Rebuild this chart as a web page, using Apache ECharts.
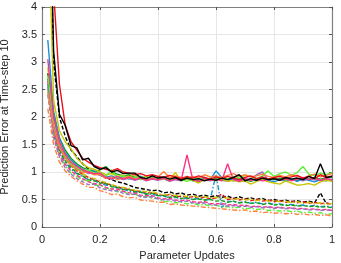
<!DOCTYPE html>
<html><head><meta charset="utf-8">
<script src="https://cdn.jsdelivr.net/npm/echarts@6/dist/echarts.min.js"></script>
<style>html,body{margin:0;padding:0;background:#fff}#c{width:341px;height:263px}</style>
</head><body><div id="c"></div>
<script>
const xs = [0.02,0.04,0.06,0.08,0.10,0.12,0.14,0.16,0.18,0.20,0.22,0.24,0.26,0.28,0.30,0.32,0.34,0.36,0.38,0.40,0.42,0.44,0.46,0.48,0.50,0.52,0.54,0.56,0.58,0.60,0.62,0.64,0.66,0.68,0.70,0.72,0.74,0.76,0.78,0.80,0.82,0.84,0.86,0.88,0.90,0.92,0.94,0.96,0.98,1.00];
const xTicks = [0,0.2,0.4,0.6,0.8,1];
const yTicks = [0,0.5,1,1.5,2,2.5,3,3.5,4];

// solid series
const sBlue = [3.40,2.10,1.62,1.35,1.22,1.12,1.05,1.00,1.02,0.96, 0.90,0.93,0.88,0.91,0.87,0.89,0.92,0.86,0.88,0.90, 0.87,0.85,0.89,0.86,0.88,0.84,0.87,0.90,0.86,1.02, 0.90,0.88,0.85,0.87,0.83,0.86,0.84,0.88,0.85,0.82, 0.86,0.84,0.87,0.83,0.88,0.85,0.82,0.86,0.84,0.87];
const sRed = [7.00,4.30,2.60,1.85,1.55,1.40,1.25,1.18,1.12,1.08, 1.05,1.02,1.06,1.00,0.98,0.95,0.97,0.93,0.95,0.92, 0.90,0.94,0.91,0.88,0.92,0.89,0.93,0.90,0.87,0.91, 0.88,0.92,0.89,0.86,0.90,0.93,0.88,0.91,0.87,0.90, 0.92,0.88,0.91,0.94,0.89,0.92,0.88,0.95,0.90,0.93];
const sBlack = [8.00,3.20,2.05,1.85,1.48,1.44,1.22,1.25,1.10,1.05, 1.08,1.00,1.03,0.97,0.98,0.98,0.90,0.88,0.93,0.89, 0.91,0.87,0.90,0.85,0.89,0.86,0.88,0.84,0.87,0.85, 0.89,0.86,0.90,0.95,0.84,0.88,0.85,0.89,0.86,0.88, 0.85,0.90,0.87,0.89,0.86,0.92,0.88,1.15,0.90,0.92];
const sYellow = [6.00,2.30,1.75,1.55,1.42,1.25,1.15,1.08,1.05,1.00, 0.95,0.97,0.92,0.94,0.90,0.96,0.89,0.92,0.88,0.90, 0.87,0.86,0.99,0.84,0.88,0.85,0.80,0.86,0.89,0.84, 0.87,0.83,0.85,0.82,0.84,0.78,0.83,0.86,0.82,0.80, 0.78,0.84,0.80,0.76,0.77,0.79,0.76,0.82,0.85,0.83];
const sGreen = [2.80,2.05,1.62,1.40,1.25,1.15,1.08,1.04,1.00,1.04, 1.10,1.00,0.96,0.93,0.95,0.90,0.92,0.88,0.91,0.87, 0.89,0.86,0.88,0.85,0.90,0.87,0.84,0.88,0.86,0.89, 0.85,0.87,0.84,0.88,0.86,0.83,0.87,0.85,0.88,0.86, 0.89,0.85,0.87,0.84,0.88,0.86,0.90,0.87,0.89,0.91];
const sLime = [2.75,1.95,1.55,1.30,1.15,1.08,1.02,1.04,0.98,0.99, 0.92,1.04,0.90,0.93,0.88,0.91,0.86,0.89,0.92,0.87, 0.90,0.85,0.88,0.86,0.83,0.87,0.89,0.85,0.88,0.86, 0.90,0.87,0.92,0.89,0.94,0.91,0.88,0.93,1.02,0.92, 0.97,1.00,0.94,0.99,1.10,0.96,0.93,0.98,0.95,0.99];
const sPink = [3.05,2.00,1.55,1.32,1.18,1.10,1.04,1.00,0.97,0.98, 0.90,0.88,0.92,0.87,0.90,0.86,0.89,0.85,0.88,0.86, 0.89,0.84,0.87,0.85,1.31,0.86,0.83,0.88,0.85,0.87, 0.84,1.15,0.86,0.83,0.88,0.85,0.87,0.84,0.86,0.89, 0.85,0.88,0.84,0.87,0.90,0.86,0.89,0.85,0.88,0.86];
const sOrange = [2.45,1.80,1.45,1.25,1.12,1.05,0.99,1.00,0.95,0.96, 0.88,0.91,0.86,0.89,0.92,0.87,0.90,0.85,0.88,0.91, 1.01,0.89,0.93,0.90,0.88,0.92,0.89,0.95,0.91,0.93, 0.90,0.94,0.97,0.92,0.95,0.91,0.93,0.96,0.92,0.90, 0.94,0.91,0.95,0.92,0.89,0.93,0.96,0.91,0.94,0.97];
const sPurple = [2.55,1.85,1.48,1.28,1.15,1.06,1.02,0.97,0.98,0.94, 0.92,0.87,0.90,0.86,0.89,0.85,0.88,0.84,0.87,0.85, 0.88,0.83,0.86,0.84,0.87,0.85,0.82,0.86,0.84,0.88, 0.85,0.83,0.87,0.84,0.86,0.88,0.95,1.00,0.85,0.88, 0.86,0.89,0.85,0.87,0.84,0.88,0.86,0.84,0.87,0.85];

// dashed series
const dBlack = [7.50,3.00,2.00,1.65,1.40,1.28,1.15,1.06,1.00,0.94, 0.90,0.86,0.82,0.80,0.76,0.72,0.70,0.68,0.66,0.67, 0.62,0.64,0.60,0.62,0.58,0.60,0.56,0.58,0.55,0.57, 0.54,0.56,0.52,0.55,0.51,0.53,0.50,0.52,0.48,0.50, 0.47,0.49,0.46,0.48,0.45,0.47,0.44,0.62,0.43,0.42];
const dRed = [2.80,1.85,1.45,1.25,1.12,1.02,0.96,0.90,0.86,0.82, 0.79,0.76,0.73,0.70,0.68,0.66,0.64,0.62,0.62,0.59, 0.57,0.59,0.55,0.56,0.54,0.55,0.52,0.54,0.51,0.53, 0.60,0.50,0.52,0.49,0.51,0.48,0.50,0.47,0.49,0.46, 0.48,0.45,0.47,0.44,0.46,0.43,0.45,0.42,0.44,0.41];
const dBlue = [2.60,1.75,1.38,1.18,1.05,0.97,0.92,0.86,0.85,0.79, 0.76,0.76,0.70,0.69,0.65,0.63,0.65,0.59,0.60,0.57, 0.56,0.53,0.54,0.51,0.53,0.50,0.52,0.49,0.50,0.95, 0.35,0.47,0.46,0.44,0.46,0.43,0.45,0.42,0.44,0.41, 0.42,0.40,0.41,0.39,0.40,0.38,0.39,0.37,0.38,0.36];
const dYellow = [2.90,1.90,1.50,1.28,1.14,1.04,0.97,0.91,0.88,0.84, 0.81,0.77,0.74,0.72,0.70,0.67,0.66,0.64,0.64,0.61, 0.58,0.60,0.57,0.58,0.55,0.57,0.54,0.55,0.53,0.54, 0.52,0.53,0.50,0.52,0.49,0.51,0.48,0.50,0.47,0.48, 0.46,0.47,0.44,0.46,0.43,0.45,0.42,0.44,0.41,0.43];
const dGreen = [2.70,1.78,1.40,1.20,1.08,0.98,0.93,0.86,0.84,0.80, 0.79,0.73,0.72,0.68,0.68,0.64,0.63,0.60,0.61,0.57, 0.57,0.54,0.55,0.52,0.53,0.50,0.51,0.49,0.50,0.47, 0.48,0.45,0.47,0.44,0.45,0.43,0.44,0.41,0.43,0.40, 0.41,0.39,0.40,0.38,0.39,0.37,0.38,0.36,0.37,0.35];
const dLime = [2.50,1.65,1.30,1.12,0.98,0.92,0.85,0.84,0.76,0.76, 0.70,0.70,0.64,0.65,0.59,0.60,0.55,0.56,0.52,0.52, 0.46,0.47,0.44,0.45,0.42,0.43,0.40,0.41,0.38,0.40, 0.36,0.37,0.35,0.36,0.33,0.34,0.32,0.33,0.30,0.31, 0.29,0.30,0.28,0.29,0.26,0.27,0.25,0.26,0.23,0.24];
const dPink = [2.65,1.70,1.33,1.14,1.02,0.94,0.88,0.82,0.79,0.77, 0.72,0.69,0.69,0.65,0.62,0.62,0.58,0.57,0.57,0.53, 0.51,0.52,0.49,0.48,0.49,0.46,0.45,0.46,0.43,0.42, 0.43,0.40,0.41,0.39,0.40,0.37,0.38,0.36,0.37,0.35, 0.36,0.34,0.35,0.33,0.34,0.32,0.33,0.31,0.32,0.30];
const dOrange = [2.15,1.50,1.18,1.02,0.92,0.84,0.78,0.72,0.72,0.66, 0.63,0.59,0.60,0.55,0.53,0.54,0.49,0.48,0.47,0.45, 0.45,0.41,0.42,0.40,0.39,0.38,0.37,0.36,0.35,0.34, 0.33,0.32,0.31,0.30,0.31,0.28,0.29,0.26,0.27,0.25, 0.26,0.24,0.25,0.23,0.24,0.22,0.23,0.21,0.22,0.20];
const dPurple = [2.40,1.62,1.28,1.08,0.96,0.88,0.82,0.77,0.78,0.71, 0.68,0.66,0.66,0.61,0.59,0.60,0.55,0.54,0.55,0.51, 0.49,0.50,0.47,0.46,0.47,0.44,0.43,0.44,0.41,0.40, 0.41,0.38,0.39,0.37,0.38,0.36,0.37,0.35,0.36,0.34, 0.35,0.33,0.34,0.32,0.33,0.31,0.32,0.30,0.31,0.30];

const C = {blue:'#1a8fd6', red:'#e8101c', black:'#000000', yellow:'#c8c400', green:'#13a013', lime:'#5cf03c', pink:'#ff3385', orange:'#ff7f3a', purple:'#9a70c0'};
const DASH = [4,2];
const DASHDOT = [5,2,1.5,2];

const dashedDefs = [
  [dBlack, C.black, DASH], [dRed, C.red, DASH], [dBlue, C.blue, DASHDOT], [dYellow, C.yellow, DASHDOT],
  [dGreen, C.green, DASH], [dLime, C.lime, DASHDOT], [dPink, C.pink, DASH], [dOrange, C.orange, DASHDOT], [dPurple, C.purple, DASH]
];
const solidDefs = [
  [sPurple, C.purple], [sGreen, C.green], [sBlue, C.blue], [sYellow, C.yellow], [sLime, C.lime],
  [sOrange, C.orange], [sPink, C.pink], [sRed, C.red], [sBlack, C.black]
];

function pairs(v){ return v.map((y,i)=>[xs[i], y]); }
const series = [];
dashedDefs.forEach(([v,c,t])=>series.push({type:'line', data:pairs(v), symbol:'none', clip:true, lineStyle:{color:c, width:1.4, type:t}, itemStyle:{color:c}}));
solidDefs.forEach(([v,c])=>series.push({type:'line', data:pairs(v), symbol:'none', clip:true, lineStyle:{color:c, width:1.4}, itemStyle:{color:c}}));

const axisCol = '#262626';
const font = 'Liberation Sans, Arial, Helvetica, sans-serif';
const option = {
  animation:false,
  textStyle:{fontFamily:font},
  grid:{left:42, right:9, top:7, bottom:36, containLabel:false, outerBoundsMode:'none'},
  xAxis:[
    {type:'value', min:xTicks[0], max:xTicks[xTicks.length-1], interval:0.2,
     name:'Parameter Updates', nameLocation:'middle', nameGap:23,
     nameTextStyle:{color:axisCol, fontSize:11, fontFamily:font},
     axisLine:{lineStyle:{color:'#808080', width:1.2}},
     axisTick:{inside:true, length:3, lineStyle:{color:'#555'}},
     axisLabel:{color:axisCol, fontSize:11, margin:7, fontFamily:font},
     splitLine:{show:true, lineStyle:{color:'#e6e6e6', width:1}}},
    {type:'value', position:'top', min:0, max:1, interval:0.2,
     axisLine:{show:true, onZero:false, lineStyle:{color:'#808080', width:1.2}},
     axisTick:{show:true, inside:true, length:3, lineStyle:{color:'#555'}},
     axisLabel:{show:false}, splitLine:{show:false}}
  ],
  yAxis:[
    {type:'value', min:yTicks[0], max:yTicks[yTicks.length-1], interval:0.5,
     name:'Prediction Error at Time-step 10', nameLocation:'middle', nameGap:23,
     nameTextStyle:{color:axisCol, fontSize:11, fontFamily:font},
     axisLine:{show:true, lineStyle:{color:'#808080', width:1.2}},
     axisTick:{show:true, inside:true, length:3, lineStyle:{color:'#555'}},
     axisLabel:{color:axisCol, fontSize:11, margin:5, fontFamily:font},
     splitLine:{show:true, lineStyle:{color:'#e6e6e6', width:1}}},
    {type:'value', position:'right', min:0, max:4, interval:0.5,
     axisLine:{show:true, onZero:false, lineStyle:{color:'#808080', width:1.2}},
     axisTick:{show:true, inside:true, length:3, lineStyle:{color:'#555'}},
     axisLabel:{show:false}, splitLine:{show:false}}
  ],
  series: series
};
const chart = echarts.init(document.getElementById('c'), null, {renderer:'canvas'});
chart.setOption(option);
</script></body></html>
